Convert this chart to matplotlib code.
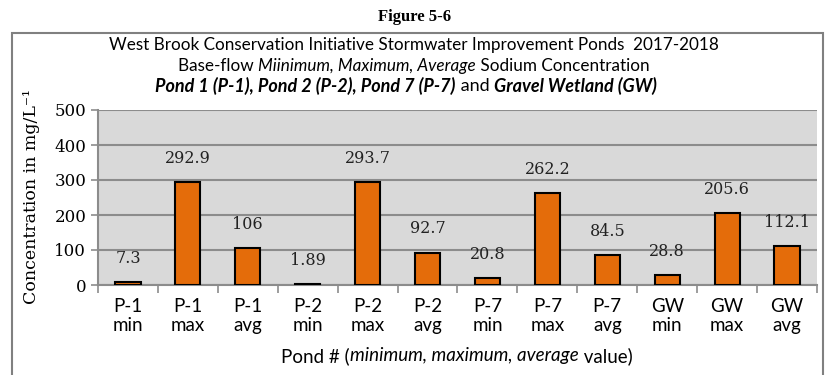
import matplotlib
matplotlib.use('Agg')
import numpy as np
import matplotlib.pyplot as plt
from matplotlib.patches import Rectangle

# sodium concentration, base-flow, mg/L
ponds = ['P-1', 'P-1', 'P-1', 'P-2', 'P-2', 'P-2', 'P-7', 'P-7', 'P-7', 'GW', 'GW', 'GW']
stats = ['min', 'max', 'avg'] * 4
values = [7.3, 292.9, 106, 1.89, 293.7, 92.7, 20.8, 262.2, 84.5, 28.8, 205.6, 112.1]
value_labels = ['7.3', '292.9', '106', '1.89', '293.7', '92.7', '20.8', '262.2', '84.5', '28.8', '205.6', '112.1']

SANS = ['Lato', 'DejaVu Sans']
SERIF = ['DejaVu Serif']
ORANGE = '#E46C0A'
GRID = '#8C8C8C'

W, H = 825, 375
fig = plt.figure(figsize=(W / 100, H / 100), dpi=100)


def fx(px):
    return px / W


def fy(py):
    return 1 - py / H


def mixed_line(pieces, xc, yc, size, family):
    # draw a line of text made of differently styled pieces, centred on xc
    renderer = fig.canvas.get_renderer()
    texts = []
    total = 0
    for s, style, weight in pieces:
        t = fig.text(0, fy(yc), s, fontsize=size, family=family, style=style,
                     weight=weight, va='center', ha='left')
        w = t.get_window_extent(renderer).width
        texts.append((t, w))
        total += w
    x = xc - total / 2
    for t, w in texts:
        t.set_x(fx(x))
        x += w


# outer chart frame
fig.patches.append(Rectangle((fx(12), -0.05), fx(811), fy(33) + 0.05, transform=fig.transFigure,
                             fill=False, edgecolor='#808080', lw=1.5))

ax = fig.add_axes([fx(98), fy(285), fx(817 - 98), (285 - 110) / H])
ax.set_facecolor('#D9D9D9')

x = np.arange(len(values))
ax.bar(x, values, width=0.42, color=ORANGE, edgecolor='black', linewidth=1.5, zorder=3)
for xi, v, lab in zip(x, values, value_labels):
    ax.annotate(lab, (xi, v), xytext=(0, 17), textcoords='offset points', ha='center',
                va='center', fontsize=11.5, family=SERIF, color='#222222')

ax.set_xlim(-0.5, len(values) - 0.5)
ax.set_ylim(0, 500)
ax.set_yticks(range(0, 501, 100))
ax.yaxis.grid(True, color=GRID, lw=1.5, zorder=1)
ax.set_axisbelow(True)
for sp in ['top', 'right']:
    ax.spines[sp].set_visible(False)
ax.spines['left'].set_color(GRID)
ax.spines['bottom'].set_color(GRID)
ax.spines['left'].set_linewidth(1.5)
ax.spines['bottom'].set_linewidth(1.5)

ax.set_xticks(np.arange(-0.5, len(values), 1.0))
ax.set_xticklabels([])
ax.tick_params(axis='x', length=6, color=GRID, width=1.2)
ax.tick_params(axis='y', length=5, color=GRID, width=1.2, labelsize=12)
for lab in ax.get_yticklabels():
    lab.set_family(SERIF)
ax.set_xticks(x, minor=True)
ax.set_xticklabels([p + '\n' + s for p, s in zip(ponds, stats)], minor=True,
                   fontsize=13.5, family=SANS, linespacing=1.2)
ax.tick_params(axis='x', which='minor', length=0, pad=9)

fig.text(fx(32), fy(197), 'Concentration in mg/L⁻¹', rotation=90, ha='center', va='center',
         fontsize=12.5, family=SERIF)

fig.text(fx(415), fy(17), 'Figure 5-6', ha='center', va='center', fontsize=12,
         weight='bold', family=['Liberation Serif'])

mixed_line([('West Brook Conservation Initiative Stormwater Improvement Ponds  2017-2018', 'normal', 'normal')],
           414, 45, 12.3, SANS)
mixed_line([('Base-flow ', 'normal', 'normal'),
            ('Miinimum, Maximum, Average', 'italic', 'normal'),
            (' Sodium Concentration', 'normal', 'normal')], 414, 66, 12.3, SANS)
mixed_line([('Pond 1 (P-1), Pond 2 (P-2), Pond 7 (P-7)', 'italic', 'bold'),
            (' and ', 'normal', 'normal'),
            ('Gravel Wetland (GW)', 'italic', 'bold')], 406, 86, 13, SANS)

mixed_line([('Pond # (', 'normal', 'normal'),
            ('minimum, maximum, average', 'italic', 'normal'),
            (' value)', 'normal', 'normal')], 457, 356, 13.5, SANS)

fig.savefig('out.png', dpi=100)
